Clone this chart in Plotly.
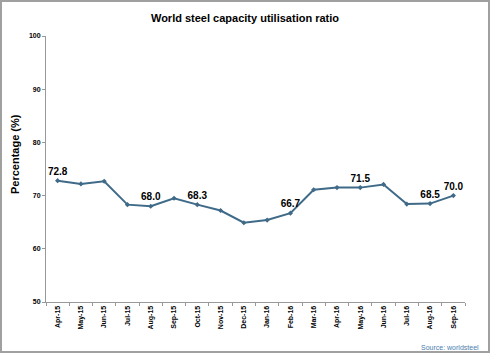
import plotly.graph_objects as go

months = ["Apr-15", "May-15", "Jun-15", "Jul-15", "Aug-15", "Sep-15", "Oct-15", "Nov-15", "Dec-15",
          "Jan-16", "Feb-16", "Mar-16", "Apr-16", "May-16", "Jun-16", "Jul-16", "Aug-16", "Sep-16"]
ratio = [72.8, 72.2, 72.7, 68.3, 68.0, 69.5, 68.3, 67.2, 64.9,
         65.4, 66.7, 71.1, 71.5, 71.5, 72.1, 68.4, 68.5, 70.0]
labeled = ["Apr-15", "Aug-15", "Oct-15", "Feb-16", "May-16", "Aug-16", "Sep-16"]
y_ticks = [50, 60, 70, 80, 90, 100]

W, H = 490, 353
ml, mr, mt, mb = 46, 25, 36, 51
pw, ph = W - ml - mr, H - mt - mb

FONT = "Liberation Sans, Arial, sans-serif"
texts = [f"{v:.1f}" if m in labeled else "" for m, v in zip(months, ratio)]

fig = go.Figure()
fig.add_trace(go.Scatter(
    x=months, y=ratio, mode="lines+markers+text",
    line=dict(color="#3F6A88", width=2),
    marker=dict(symbol="diamond", size=4, color="#3F6A88"),
    text=texts, textposition="top center",
    textfont=dict(family=FONT, size=10, color="#000000", weight="bold"),
    cliponaxis=False, showlegend=False,
))

fig.update_layout(
    width=W, height=H,
    margin=dict(l=ml, r=mr, t=mt, b=mb),
    paper_bgcolor="white", plot_bgcolor="white",
    font=dict(family=FONT, color="#000000"),
    title=dict(text="<b>World steel capacity utilisation ratio</b>",
               x=0.5, xanchor="center", y=1 - 18 / H, yanchor="middle",
               font=dict(size=11, family=FONT, color="#000000")),
    xaxis=dict(type="category", range=[-0.5, len(months) - 0.5],
               showline=True, linecolor="#999999", linewidth=1,
               ticks="outside", ticklen=3, tickcolor="#999999", tickson="boundaries",
               tickangle=-90, tickfont=dict(size=7, family=FONT, weight="bold"),
               showgrid=False, zeroline=False),
    yaxis=dict(range=[50, 100], tickvals=y_ticks,
               showline=True, linecolor="#999999", linewidth=1,
               ticks="outside", ticklen=3, tickcolor="#999999",
               tickfont=dict(size=7, family=FONT, weight="bold"),
               showgrid=False, zeroline=False),
)

fig.add_annotation(text="<b>Percentage (%)</b>", xref="paper", yref="paper",
                   x=(15 - ml) / pw, y=(H - mb - 154) / ph, textangle=-90,
                   xanchor="center", yanchor="middle", showarrow=False,
                   font=dict(size=11, family=FONT, color="#000000"))

fig.add_annotation(text="Source: worldsteel", xref="paper", yref="paper",
                   x=(W - 9 - ml) / pw, y=-(347 - mt - ph) / ph,
                   xanchor="right", yanchor="middle", showarrow=False,
                   font=dict(size=7, family=FONT, color="#4A7EB0"))

fig.add_shape(type="rect", xref="paper", yref="paper",
              x0=-(ml - 1) / pw, x1=(W - ml - 1) / pw,
              y0=-(mb - 1) / ph, y1=(H - mb - 1) / ph,
              line=dict(color="#A0A0A0", width=2), layer="below")

fig.write_html("out.html")
